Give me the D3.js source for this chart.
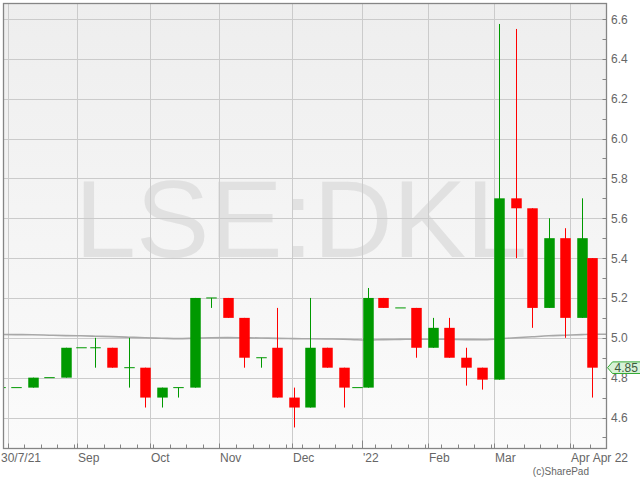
<!DOCTYPE html>
<html>
<head>
<meta charset="utf-8">
<script src="https://cdn.jsdelivr.net/npm/d3@7"></script>
<style>
  body { margin: 0; background: #fff; }
  text { font-family: "Liberation Sans", Arial, sans-serif; }
</style>
</head>
<body>
<div id="wrapper"></div>
<script>
// 1. Data (weekly candles, LSE:DKL)

const weekStarts = [
  "2021-07-26", "2021-08-02", "2021-08-09", "2021-08-16", "2021-08-23", "2021-08-30",
  "2021-09-06", "2021-09-13", "2021-09-20", "2021-09-27", "2021-10-04", "2021-10-11",
  "2021-10-18", "2021-10-25", "2021-11-01", "2021-11-08", "2021-11-15", "2021-11-22",
  "2021-11-29", "2021-12-06", "2021-12-13", "2021-12-20", "2021-12-27", "2022-01-03",
  "2022-01-10", "2022-01-17", "2022-01-24", "2022-01-31", "2022-02-07", "2022-02-14",
  "2022-02-21", "2022-02-28", "2022-03-07", "2022-03-14", "2022-03-21", "2022-03-28",
  "2022-04-04", "2022-04-11",
];
const opens = [
  4.75, 4.75, 4.75, 4.80, 4.80, 4.95, 4.95, 4.95, 4.85, 4.85, 4.70, 4.75,
  4.75, 5.20, 5.20, 5.10, 4.90, 4.95, 4.70, 4.65, 4.95, 4.85, 4.75, 4.75,
  5.20, 5.15, 5.15, 4.95, 5.05, 4.90, 4.85, 4.79, 5.70, 5.65, 5.15, 5.50,
  5.10, 5.40,
];
const highs = [
  4.75, 4.75, 4.80, 4.80, 4.95, 4.95, 5.00, 4.95, 5.00, 4.85, 4.75, 4.75,
  5.20, 5.20, 5.20, 5.10, 4.90, 5.15, 4.75, 5.20, 4.95, 4.85, 4.75, 5.25,
  5.20, 5.15, 5.15, 5.10, 5.10, 4.95, 4.85, 6.575, 6.55, 5.65, 5.60, 5.55,
  5.70, 5.40,
];
const lows = [
  4.75, 4.75, 4.75, 4.80, 4.80, 4.95, 4.85, 4.85, 4.75, 4.65, 4.65, 4.70,
  4.75, 5.15, 5.10, 4.85, 4.85, 4.70, 4.55, 4.65, 4.85, 4.65, 4.75, 4.75,
  5.15, 5.15, 4.90, 4.95, 4.90, 4.76, 4.74, 4.79, 5.40, 5.05, 5.15, 5.00,
  5.10, 4.70,
];
const closes = [
  4.75, 4.75, 4.80, 4.80, 4.95, 4.95, 4.95, 4.85, 4.85, 4.70, 4.75, 4.75,
  5.20, 5.20, 5.10, 4.90, 4.90, 4.70, 4.65, 4.95, 4.85, 4.75, 4.75, 5.20,
  5.15, 5.15, 4.95, 5.05, 4.90, 4.85, 4.79, 5.70, 5.65, 5.15, 5.50, 5.10,
  5.50, 4.85,
];
// moving average read at each candle
const movingAvg = [
  5.017, 5.016, 5.015, 5.013, 5.011, 5.010, 5.008, 5.006, 5.003, 5.000, 4.998, 4.996,
  4.998, 5.000, 5.001, 5.000, 4.999, 4.997, 4.996, 4.995, 4.994, 4.993, 4.990, 4.989,
  4.991, 4.992, 4.993, 4.993, 4.992, 4.991, 4.990, 4.995, 5.000, 5.005, 5.010, 5.013,
  5.016, 5.018,
];

const startDate = "2021-07-30";
const lastDate = "2022-04-11";
const holidays = ["2021-08-30", "2021-12-27", "2021-12-28", "2022-01-03", "2022-04-15", "2022-04-18"];

const monthStarts = ["2021-08", "2021-09", "2021-10", "2021-11", "2021-12", "2022-01", "2022-02", "2022-03", "2022-04"];
const monthLabels = ["30/7/21", "Sep", "Oct", "Nov", "Dec", "'22", "Feb", "Mar", "Apr"];
const endLabel = "Apr 22";
const yTicks = [4.6, 4.8, 5.0, 5.2, 5.4, 5.6, 5.8, 6.0, 6.2, 6.4, 6.6];
const yMinorTicks = [4.5, 4.7, 4.9, 5.1, 5.3, 5.5, 5.7, 5.9, 6.1, 6.3, 6.5];

// 2. Trading-day calendar (x axis skips weekends and holidays)

const parse = d3.utcParse("%Y-%m-%d");
const fmt = d3.utcFormat("%Y-%m-%d");
const tradingDays = d3
  .utcDays(parse("2021-07-26"), parse("2022-05-02"))
  .filter((d) => d.getUTCDay() % 6 !== 0 && !holidays.includes(fmt(d)));
const dayKeys = tradingDays.map(fmt);
const idx0 = dayKeys.indexOf(startDate);
const tIndex = (key) => dayKeys.indexOf(key) - idx0;
const lastIdx = tIndex(lastDate);

const candles = weekStarts.map((w, i) => {
  const ws = parse(w);
  const we = d3.utcDay.offset(ws, 7);
  const inWeek = tradingDays
    .filter((d) => d >= ws && d < we && fmt(d) <= lastDate)
    .map((d) => tIndex(fmt(d)));
  return {
    first: inWeek[0],
    mid: (inWeek[0] + inWeek[inWeek.length - 1] + 1) / 2,
    open: opens[i],
    high: highs[i],
    low: lows[i],
    close: closes[i],
    ma: movingAvg[i],
  };
});

const monthIdx = monthStarts.map((m) => tIndex(dayKeys.find((k) => k.startsWith(m))));

// 3. Dimensions

const dimensions = {
  width: 640,
  height: 480,
  plot: { left: 3.5, right: 606.5, top: 3.5, bottom: 448.5 },
};
const plot = dimensions.plot;

const wrapper = d3
  .select("#wrapper")
  .append("svg")
  .attr("width", dimensions.width)
  .attr("height", dimensions.height);

// 4. Scales

const xScale = d3
  .scaleLinear()
  .domain([-0.3, lastIdx + 5])
  .range([plot.left, plot.right]);

const yScale = d3.scaleLinear().domain([4.6, 6.6]).range([417.5, 19]);

// 5. Plot background

const defs = wrapper.append("defs");
const grad = defs
  .append("linearGradient")
  .attr("id", "bg")
  .attr("x1", 0)
  .attr("y1", 0)
  .attr("x2", 0)
  .attr("y2", 1);
grad.append("stop").attr("offset", "0%").attr("stop-color", "#eeeeee");
grad.append("stop").attr("offset", "100%").attr("stop-color", "#fbfbfb");

defs
  .append("clipPath")
  .attr("id", "clip")
  .append("rect")
  .attr("x", plot.left)
  .attr("y", plot.top)
  .attr("width", plot.right - plot.left)
  .attr("height", plot.bottom - plot.top);

wrapper
  .append("rect")
  .attr("x", plot.left)
  .attr("y", plot.top)
  .attr("width", plot.right - plot.left)
  .attr("height", plot.bottom - plot.top)
  .attr("fill", "url(#bg)");

const bounds = wrapper.append("g").attr("clip-path", "url(#clip)");

// watermark
bounds
  .append("text")
  .attr("x", (plot.left + plot.right) / 2 - 4)
  .attr("y", 257)
  .attr("text-anchor", "middle")
  .attr("font-size", 110)
  .attr("fill", "#e1e1e1")
  .text("LSE:DKL");

// grid
bounds
  .selectAll(".hgrid")
  .data(yTicks)
  .join("line")
  .attr("x1", plot.left)
  .attr("x2", plot.right)
  .attr("y1", (d) => Math.round(yScale(d)) + 0.5)
  .attr("y2", (d) => Math.round(yScale(d)) + 0.5)
  .attr("stroke", "#cbcbcb");

bounds
  .selectAll(".vgrid")
  .data(monthIdx)
  .join("line")
  .attr("x1", (d) => Math.round(xScale(d)) + 0.5)
  .attr("x2", (d) => Math.round(xScale(d)) + 0.5)
  .attr("y1", plot.top)
  .attr("y2", plot.bottom)
  .attr("stroke", "#cbcbcb");

// 6. Moving average

const maPoints = candles.map((d) => [d.mid, d.ma]);
maPoints.push([lastIdx + 5, movingAvg[movingAvg.length - 1]]);
const maLine = d3
  .line()
  .x((d) => xScale(d[0]))
  .y((d) => yScale(d[1]))
  .curve(d3.curveMonotoneX);

bounds
  .append("path")
  .attr("d", maLine(maPoints))
  .attr("fill", "none")
  .attr("stroke", "#a8a8a8")
  .attr("stroke-width", 1.6);

// 7. Candles

const up = "#009900";
const down = "#ff0000";
const colorOf = (d) => (d.close >= d.open ? up : down);
const bodyW = 10.5;
const cx = (d) => Math.round(xScale(d.mid)) + 0.5;

const candleG = bounds.selectAll(".candle").data(candles).join("g");

candleG
  .append("line")
  .attr("x1", cx)
  .attr("x2", cx)
  .attr("y1", (d) => yScale(d.high))
  .attr("y2", (d) => yScale(d.low))
  .attr("stroke", colorOf)
  .attr("stroke-width", 1);

candleG
  .append("rect")
  .attr("x", (d) => cx(d) - bodyW / 2)
  .attr("width", bodyW)
  .attr("y", (d) => yScale(Math.max(d.open, d.close)) - (d.open === d.close ? 0.5 : 0))
  .attr("height", (d) => Math.max(1, Math.abs(yScale(d.open) - yScale(d.close))))
  .attr("fill", colorOf);

// 8. Frame and axes

wrapper
  .append("rect")
  .attr("x", plot.left)
  .attr("y", plot.top)
  .attr("width", plot.right - plot.left)
  .attr("height", plot.bottom - plot.top)
  .attr("fill", "none")
  .attr("stroke", "#858585")
  .attr("stroke-width", 1.3);

// right axis
const yAxis = wrapper.append("g");
yAxis
  .selectAll(".ytick")
  .data(yTicks.concat(yMinorTicks).filter((d) => yScale(d) > plot.top && yScale(d) < plot.bottom))
  .join("line")
  .attr("x1", plot.right - 4)
  .attr("x2", plot.right)
  .attr("y1", (d) => Math.round(yScale(d)) + 0.5)
  .attr("y2", (d) => Math.round(yScale(d)) + 0.5)
  .attr("stroke", "#858585");

yAxis
  .selectAll(".ylabel")
  .data(yTicks)
  .join("text")
  .attr("x", plot.right + 4.5)
  .attr("y", (d) => yScale(d) + 4.5)
  .attr("font-size", 12)
  .attr("fill", "#666")
  .text((d) => d3.format(".1f")(d));

// bottom axis
const weekTicks = candles.map((d) => d.first).filter((d) => d >= 0);
const xAxis = wrapper.append("g");
xAxis
  .selectAll(".wtick")
  .data(weekTicks)
  .join("line")
  .attr("x1", (d) => Math.round(xScale(d)) + 0.5)
  .attr("x2", (d) => Math.round(xScale(d)) + 0.5)
  .attr("y1", plot.bottom - 4)
  .attr("y2", plot.bottom)
  .attr("stroke", "#858585");

xAxis
  .selectAll(".mtick")
  .data(monthIdx)
  .join("line")
  .attr("x1", (d) => Math.round(xScale(d)) + 0.5)
  .attr("x2", (d) => Math.round(xScale(d)) + 0.5)
  .attr("y1", (d, i) => plot.bottom - (monthLabels[i].startsWith("'") ? 8 : 5))
  .attr("y2", plot.bottom)
  .attr("stroke", "#858585");

xAxis
  .selectAll(".mlabel")
  .data(monthIdx)
  .join("text")
  .attr("x", (d, i) => (i === 0 ? xScale(0) - 3.5 : Math.round(xScale(d)) + 1))
  .attr("y", 462)
  .attr("font-size", 12)
  .attr("fill", "#666")
  .text((d, i) => monthLabels[i]);

xAxis
  .append("text")
  .attr("x", 628)
  .attr("y", 462)
  .attr("text-anchor", "end")
  .attr("font-size", 12)
  .attr("fill", "#666")
  .text(endLabel);

wrapper
  .append("text")
  .attr("x", 589)
  .attr("y", 475)
  .attr("text-anchor", "end")
  .attr("font-size", 10)
  .attr("fill", "#666")
  .text("(c)SharePad");

// 9. Last price tag

const lastClose = closes[closes.length - 1];
const ly = yScale(lastClose);
const tag = wrapper.append("g");
tag
  .append("path")
  .attr(
    "d",
    `M${plot.right + 1},${ly} L${plot.right + 6},${ly - 5.8} L${dimensions.width + 2},${ly - 5.8} L${dimensions.width + 2},${ly + 5.8} L${plot.right + 6},${ly + 5.8} Z`
  )
  .attr("fill", "#d7f2d7")
  .attr("stroke", "#33aa33")
  .attr("stroke-width", 1);
tag
  .append("text")
  .attr("x", plot.right + 8)
  .attr("y", ly + 4.5)
  .attr("font-size", 12)
  .attr("fill", "#3d5a3d")
  .text(d3.format(".2f")(lastClose));
</script>
</body>
</html>
